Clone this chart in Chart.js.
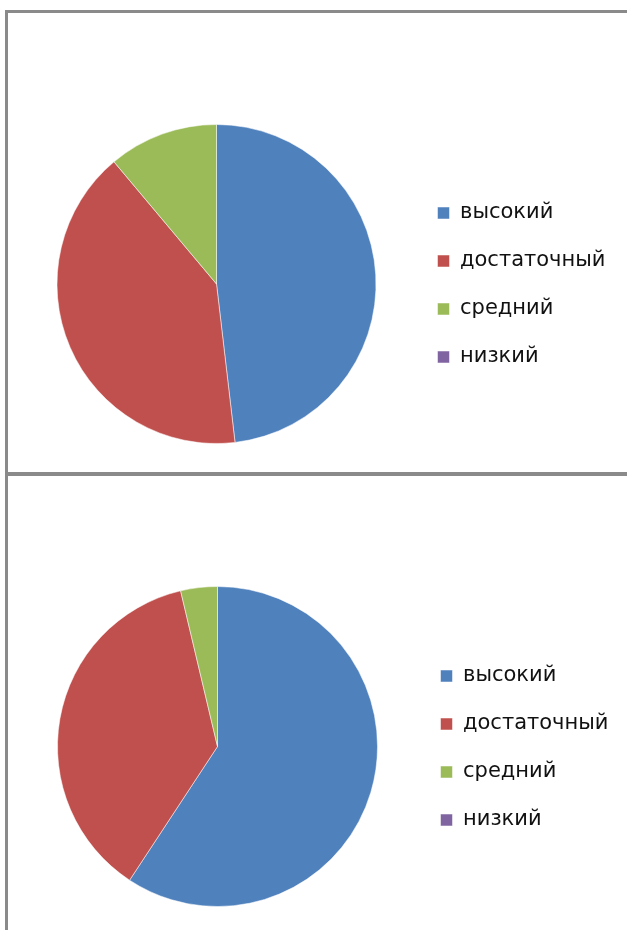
<!DOCTYPE html>
<html>
<head>
<meta charset="utf-8">
<script src="https://cdn.jsdelivr.net/npm/chart.js@4/dist/chart.umd.min.js"></script>
<style>
  html, body { margin: 0; padding: 0; background: #fff; width: 627px; height: 930px; overflow: hidden; }
  .line { position: absolute; background: #8a8a8a; }
  canvas { position: absolute; }
</style>
</head>
<body>
<div class="line" style="left:5px; top:10px; width:3px; height:920px;"></div>
<div class="line" style="left:5px; top:10px; width:622px; height:3px;"></div>
<div class="line" style="left:5px; top:472px; width:622px; height:4px;"></div>
<canvas id="c1" width="619" height="458" style="left:8px; top:13px;"></canvas>
<canvas id="c2" width="619" height="454" style="left:8px; top:476px;"></canvas>
<script>
const categories = ['высокий', 'достаточный', 'средний', 'низкий'];
const sliceColors = ['#4F81BD', '#C0504D', '#9BBB59', '#8064A2'];
const values1 = [13, 11, 3, 0];
const values2 = [16, 10, 1, 0];

const FONT_FAMILY = "'DejaVu Sans'";
const FONT_SIZE = 21;
const BOX = 12;

function makePie(id, values, cx, cy, r, textX, legendShift) {
  const canvas = document.getElementById(id);
  const W = canvas.width, H = canvas.height;
  const ctx = canvas.getContext('2d');
  ctx.font = FONT_SIZE + 'px ' + FONT_FAMILY;
  let maxText = 0;
  categories.forEach(c => { maxText = Math.max(maxText, ctx.measureText(c).width); });
  const P = 48 - FONT_SIZE;               // legend item spacing = font + padding
  const boxX = textX - BOX - FONT_SIZE / 2;
  const legendLeft = boxX - P;
  const a = legendLeft - cx;
  const padL = cx - a;
  const legW = P + BOX + FONT_SIZE / 2 + maxText + 10;
  const padR = W - legW - legendLeft;
  const padT = cy - r;
  const padB = H - (cy + r);
  new Chart(canvas, {
    type: 'pie',
    data: {
      labels: categories,
      datasets: [{
        data: values,
        backgroundColor: sliceColors,
        borderColor: 'rgba(255,255,255,0.5)',
        borderWidth: 1,
        hoverOffset: 0
      }]
    },
    options: {
      responsive: false,
      animation: false,
      layout: { padding: { left: padL, right: padR, top: padT, bottom: padB } },
      plugins: {
        tooltip: { enabled: false },
        legend: {
          position: 'right',
          title: { display: true, text: '', padding: 0, font: { size: legendShift * 2, lineHeight: 1 } },
          labels: {
            boxWidth: BOX,
            boxHeight: BOX,
            padding: P,
            color: '#111',
            font: { family: FONT_FAMILY, size: FONT_SIZE }
          }
        }
      }
    }
  });
}

makePie('c1', values1, 208.5, 271, 160, 460 - 8, 1);
makePie('c2', values2, 209.5, 270.5, 160.5, 463 - 8, 1.5);
</script>
</body>
</html>
